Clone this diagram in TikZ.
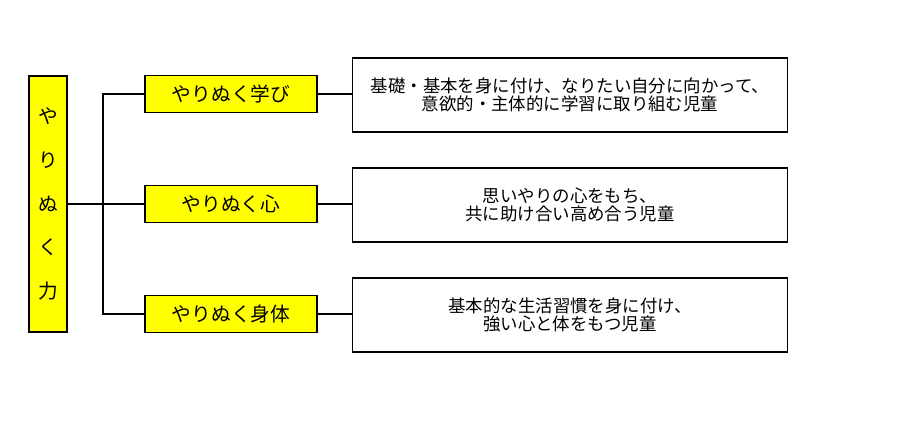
\documentclass[tikz,border=0pt]{standalone}
\usepackage{fontspec}
\usepackage{xcolor}
\usepackage{tikz}
\usetikzlibrary{calc}
\newfontfamily\jp{Noto Sans CJK JP}
\definecolor{boxyel}{HTML}{FFFF00}
\definecolor{ink}{HTML}{000000}
\tikzset{
  line/.style={draw=ink, line width=0.8pt},
  rootbox/.style={line, fill=boxyel, minimum width=0.95cm, minimum height=6.4cm,
    inner sep=0pt, align=center, font={\jp\fontsize{14}{31}\selectfont}},
  pillar/.style={line, fill=boxyel, minimum width=4.3cm, minimum height=0.925cm,
    inner sep=0pt, font={\jp\fontsize{14}{16}\selectfont}},
  goal/.style={line, fill=white, minimum width=10.875cm, minimum height=1.85cm,
    inner sep=0pt, align=center, font={\jp\fontsize{12.4}{13}\selectfont}}
}
\begin{document}
\begin{tikzpicture}[x=0.025cm, y=-0.025cm]
  \useasboundingbox (0,0) rectangle (902,442);
  % root
  \node[rootbox] (root) at (48,204) {や\\り\\ぬ\\く\\力};
  % three pillars
  \node[pillar] (p1) at (231,94)  {やりぬく学び};
  \node[pillar] (p2) at (231,204) {やりぬく心};
  \node[pillar] (p3) at (231,314) {やりぬく身体};
  % goals
  \node[goal] (g1) at (570,95)  {基礎・基本を身に付け、なりたい自分に向かって、\\意欲的・主体的に学習に取り組む児童};
  \node[goal] (g2) at (570,205) {思いやりの心をもち、\\共に助け合い高め合う児童};
  \node[goal] (g3) at (570,315) {基本的な生活習慣を身に付け、\\強い心と体をもつ児童};

  \coordinate (trunk) at (103,204);
  \draw[line] (root.east) -- (trunk);
  \draw[line] (p1.west) -| (trunk) |- (p3.west);
  \draw[line] (trunk) -- (p2.west);

  \draw[line] (p1.east) -- (p1.east -| g1.west);
  \draw[line] (p2.east) -- (p2.east -| g2.west);
  \draw[line] (p3.east) -- (p3.east -| g3.west);
\end{tikzpicture}
\end{document}
